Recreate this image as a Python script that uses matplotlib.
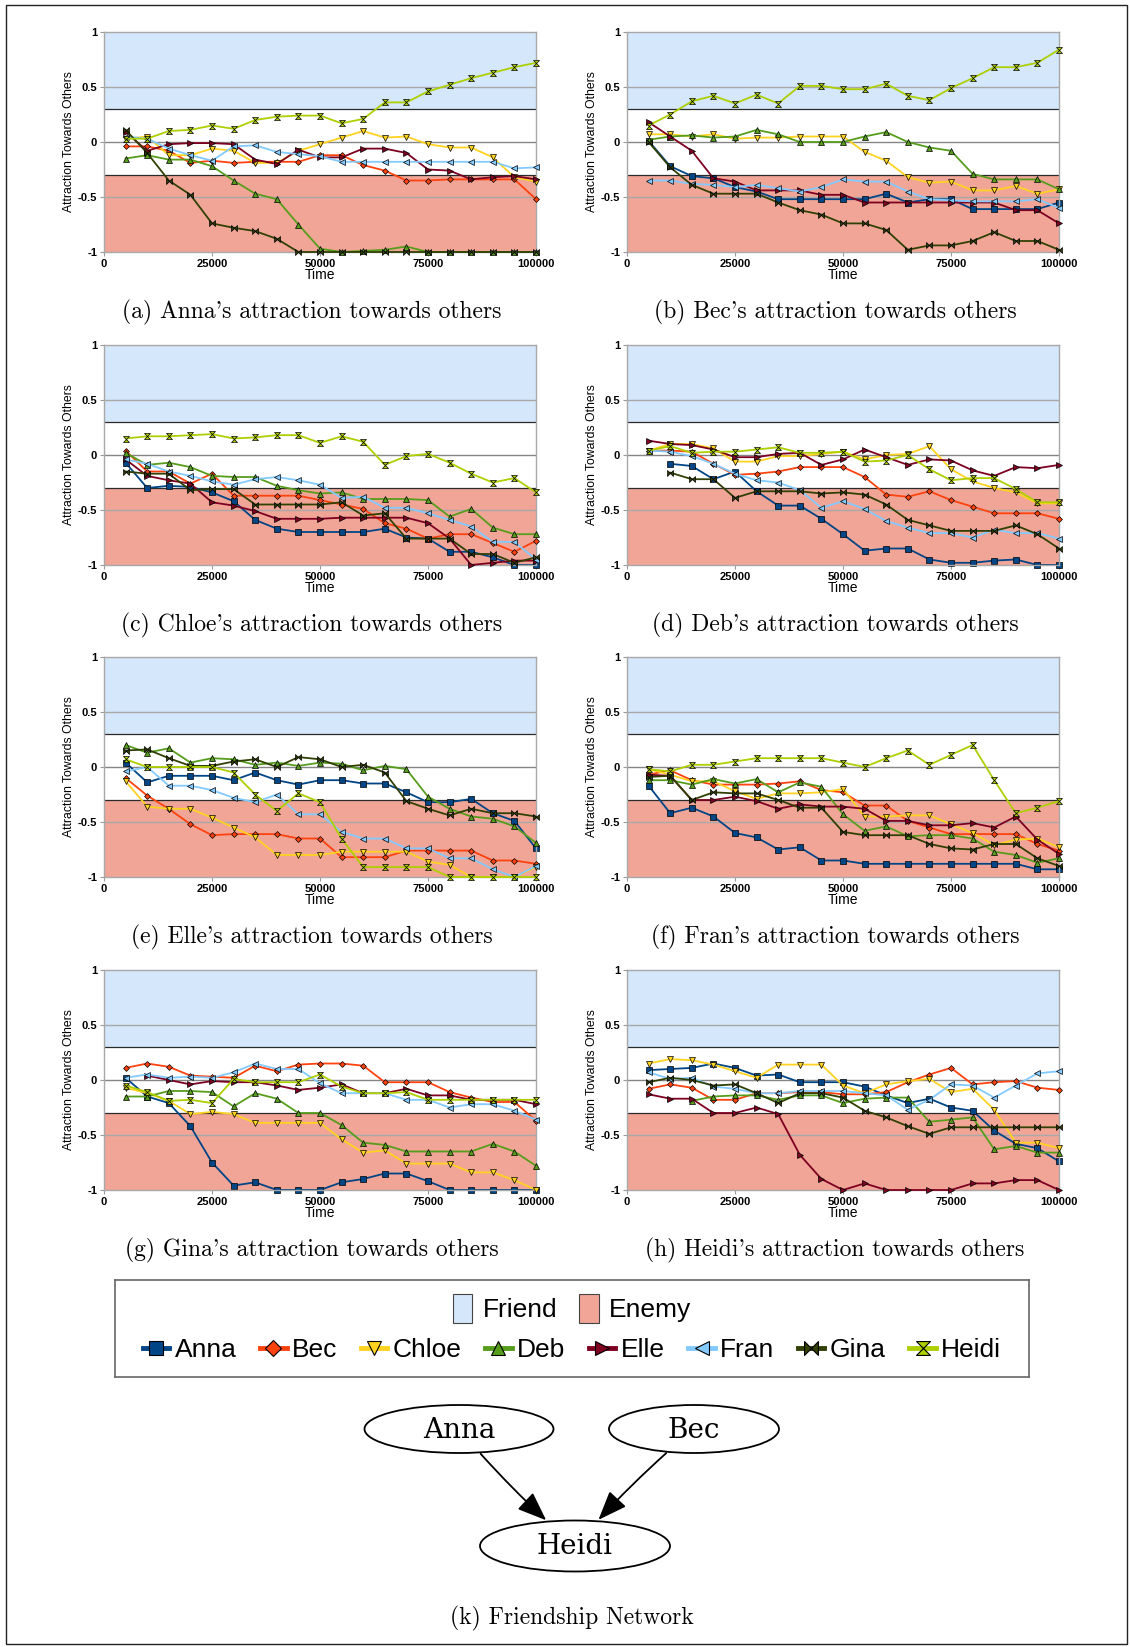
import numpy as np
import matplotlib
matplotlib.use("Agg")
import matplotlib.pyplot as plt
from matplotlib.path import Path
from matplotlib.patches import Ellipse, Rectangle, FancyArrowPatch, Patch
from matplotlib.lines import Line2D

plt.rcParams['font.family'] = ['Liberation Sans', 'DejaVu Sans']

W, H = 1130, 1647  # figure size in pixels

times = [5000, 10000, 15000, 20000, 25000, 30000, 35000, 40000, 45000, 50000,
         55000, 60000, 65000, 70000, 75000, 80000, 85000, 90000, 95000, 100000]
people = ["Anna", "Bec", "Chloe", "Deb", "Elle", "Fran", "Gina", "Heidi"]
colors = ["#004586", "#ff420e", "#ffd320", "#579d1c", "#7e0021", "#83caff", "#314004", "#aecf00"]
captions = ["(a) Anna's attraction towards others", "(b) Bec's attraction towards others",
            "(c) Chloe's attraction towards others", "(d) Deb's attraction towards others",
            "(e) Elle's attraction towards others", "(f) Fran's attraction towards others",
            "(g) Gina's attraction towards others", "(h) Heidi's attraction towards others"]
yticks = [-1, -0.5, 0, 0.5, 1]
ytick_labels = ["-1", "-0.5", "0", "0.5", "1"]
xticks = [0, 25000, 50000, 75000, 100000]
friend_range = (0.3, 1)
enemy_range = (-1, -0.3)

n = None

anna = {
    "Bec":   [-0.04, -0.04, -0.08, -0.19, -0.17, -0.19, -0.18, -0.18, -0.18, -0.12, -0.12, -0.21, -0.26, -0.35, -0.35, -0.34, -0.34, -0.34, -0.34, -0.52],
    "Chloe": [0.03, 0.05, -0.12, -0.12, -0.06, -0.08, -0.19, -0.19, -0.08, -0.02, 0.04, 0.10, 0.04, 0.05, -0.02, -0.05, -0.05, -0.14, -0.32, -0.36],
    "Deb":   [-0.15, -0.12, -0.16, -0.16, -0.22, -0.35, -0.47, -0.52, -0.75, -0.97, -1.0, -0.99, -0.98, -0.95, -1.0, -1.0, -1.0, -1.0, -1.0, -1.0],
    "Elle":  [0.09, -0.08, -0.02, -0.01, -0.01, -0.02, -0.16, -0.20, -0.07, -0.14, -0.14, -0.06, -0.06, -0.10, -0.25, -0.26, -0.34, -0.32, -0.31, -0.34],
    "Fran":  [0.05, 0.03, -0.06, -0.12, -0.17, -0.04, -0.03, -0.09, -0.11, -0.13, -0.18, -0.18, -0.18, -0.18, -0.18, -0.18, -0.18, -0.18, -0.24, -0.23],
    "Gina":  [0.11, -0.10, -0.35, -0.48, -0.74, -0.78, -0.81, -0.88, -1.0, -1.0, -1.0, -1.0, -1.0, -1.0, -1.0, -1.0, -1.0, -1.0, -1.0, -1.0],
    "Heidi": [0.03, 0.03, 0.10, 0.11, 0.15, 0.12, 0.20, 0.23, 0.24, 0.24, 0.17, 0.21, 0.36, 0.36, 0.46, 0.52, 0.58, 0.63, 0.68, 0.72],
}
bec = {
    "Anna":  [0.01, -0.22, -0.31, -0.33, -0.41, -0.45, -0.52, -0.52, -0.52, -0.52, -0.52, -0.47, -0.55, -0.52, -0.52, -0.61, -0.61, -0.61, -0.61, -0.55],
    "Chloe": [0.07, 0.07, 0.05, 0.07, 0.03, 0.04, 0.04, 0.05, 0.05, 0.05, -0.09, -0.17, -0.32, -0.37, -0.36, -0.44, -0.44, -0.40, -0.47, -0.43],
    "Deb":   [0.02, 0.05, 0.06, 0.04, 0.05, 0.11, 0.07, 0.0, 0.0, 0.0, 0.05, 0.09, 0.0, -0.05, -0.08, -0.29, -0.34, -0.34, -0.34, -0.43],
    "Elle":  [0.18, 0.05, -0.08, -0.33, -0.36, -0.44, -0.44, -0.44, -0.48, -0.48, -0.55, -0.55, -0.55, -0.55, -0.55, -0.55, -0.55, -0.62, -0.62, -0.74],
    "Fran":  [-0.35, -0.35, -0.38, -0.39, -0.41, -0.39, -0.42, -0.45, -0.41, -0.34, -0.36, -0.36, -0.45, -0.52, -0.53, -0.54, -0.54, -0.54, -0.52, -0.60],
    "Gina":  [0.0, -0.23, -0.39, -0.47, -0.47, -0.47, -0.55, -0.62, -0.66, -0.74, -0.74, -0.80, -0.98, -0.94, -0.94, -0.90, -0.82, -0.90, -0.90, -0.98],
    "Heidi": [0.15, 0.25, 0.37, 0.42, 0.35, 0.43, 0.35, 0.51, 0.51, 0.48, 0.48, 0.53, 0.42, 0.38, 0.49, 0.58, 0.68, 0.68, 0.72, 0.84],
}
chloe = {
    "Anna":  [-0.07, -0.30, -0.28, -0.29, -0.34, -0.42, -0.59, -0.67, -0.70, -0.70, -0.70, -0.70, -0.67, -0.75, -0.76, -0.88, -0.88, -0.93, -1.0, -1.0],
    "Bec":   [0.04, -0.15, -0.15, -0.26, -0.17, -0.37, -0.37, -0.37, -0.37, -0.41, -0.45, -0.49, -0.62, -0.67, -0.76, -0.72, -0.72, -0.80, -0.88, -0.78],
    "Deb":   [0.02, -0.09, -0.07, -0.11, -0.19, -0.20, -0.20, -0.28, -0.32, -0.35, -0.34, -0.40, -0.40, -0.40, -0.41, -0.56, -0.49, -0.66, -0.72, -0.72],
    "Elle":  [-0.04, -0.19, -0.23, -0.26, -0.43, -0.46, -0.51, -0.58, -0.58, -0.58, -0.57, -0.57, -0.57, -0.57, -0.62, -0.76, -1.0, -0.98, -0.96, -0.96],
    "Fran":  [-0.04, -0.08, -0.15, -0.19, -0.24, -0.27, -0.22, -0.20, -0.23, -0.27, -0.39, -0.38, -0.48, -0.48, -0.53, -0.59, -0.65, -0.79, -0.79, -0.95],
    "Gina":  [-0.15, -0.17, -0.17, -0.32, -0.31, -0.31, -0.45, -0.45, -0.45, -0.45, -0.43, -0.55, -0.53, -0.76, -0.76, -0.76, -0.90, -0.90, -0.98, -0.93],
    "Heidi": [0.15, 0.17, 0.17, 0.18, 0.19, 0.15, 0.16, 0.18, 0.18, 0.11, 0.17, 0.12, -0.09, -0.01, 0.01, -0.07, -0.17, -0.25, -0.21, -0.34],
}
deb = {
    "Anna":  [n, -0.08, -0.10, -0.22, -0.15, -0.33, -0.46, -0.46, -0.58, -0.72, -0.87, -0.85, -0.85, -0.95, -0.98, -0.98, -0.96, -0.95, -1.0, -1.0],
    "Bec":   [0.04, 0.04, 0.03, -0.08, -0.18, -0.17, -0.15, -0.11, -0.11, -0.11, -0.20, -0.36, -0.38, -0.33, -0.41, -0.47, -0.53, -0.53, -0.53, -0.58],
    "Chloe": [0.04, 0.10, 0.10, 0.06, -0.06, -0.06, -0.01, -0.01, 0.01, 0.03, -0.04, 0.0, 0.01, 0.08, -0.13, -0.24, -0.30, -0.34, -0.44, -0.44],
    "Elle":  [0.13, 0.10, 0.09, 0.05, -0.02, -0.02, 0.01, 0.02, -0.09, -0.04, 0.05, -0.02, -0.09, -0.04, -0.05, -0.14, -0.19, -0.11, -0.12, -0.09],
    "Fran":  [0.04, 0.03, -0.01, -0.08, -0.17, -0.23, -0.25, -0.32, -0.48, -0.42, -0.49, -0.60, -0.66, -0.71, -0.71, -0.75, -0.68, -0.71, -0.71, -0.76],
    "Gina":  [n, -0.16, -0.22, -0.22, -0.39, -0.33, -0.33, -0.33, -0.35, -0.34, -0.36, -0.45, -0.59, -0.64, -0.69, -0.69, -0.69, -0.64, -0.72, -0.85],
    "Heidi": [0.04, 0.08, 0.02, 0.03, 0.03, 0.05, 0.07, 0.02, 0.02, 0.03, -0.06, -0.05, 0.0, -0.13, -0.23, -0.21, -0.21, -0.31, -0.43, -0.43],
}
elle = {
    "Anna":  [0.04, -0.14, -0.08, -0.08, -0.08, -0.12, -0.05, -0.12, -0.16, -0.12, -0.12, -0.15, -0.15, -0.23, -0.32, -0.32, -0.29, -0.42, -0.49, -0.74],
    "Bec":   [-0.10, -0.26, -0.38, -0.52, -0.62, -0.61, -0.61, -0.61, -0.65, -0.65, -0.82, -0.82, -0.82, -0.76, -0.76, -0.76, -0.76, -0.85, -0.85, -0.88],
    "Chloe": [-0.13, -0.36, -0.38, -0.38, -0.46, -0.55, -0.64, -0.80, -0.80, -0.80, -0.77, -0.77, -0.77, -0.77, -0.86, -0.89, -1.0, -1.0, -1.0, -0.91],
    "Deb":   [0.20, 0.13, 0.17, 0.04, 0.08, 0.07, 0.02, 0.04, 0.01, 0.04, 0.03, -0.03, 0.01, -0.02, -0.27, -0.38, -0.45, -0.47, -0.54, -0.69],
    "Fran":  [-0.04, 0.0, -0.17, -0.17, -0.21, -0.28, -0.32, -0.25, -0.43, -0.43, -0.59, -0.65, -0.65, -0.74, -0.74, -0.83, -0.83, -0.93, -1.0, -0.90],
    "Gina":  [0.15, 0.16, 0.08, 0.01, 0.01, 0.05, 0.07, 0.0, 0.09, 0.07, 0.0, 0.02, -0.05, -0.31, -0.38, -0.44, -0.38, -0.42, -0.42, -0.45],
    "Heidi": [0.07, 0.0, 0.0, 0.0, 0.0, -0.05, -0.25, -0.40, -0.24, -0.32, -0.65, -0.91, -0.91, -0.91, -0.91, -1.0, -1.0, -1.0, -1.0, -1.0],
}
fran = {
    "Anna":  [-0.17, -0.42, -0.37, -0.45, -0.60, -0.64, -0.75, -0.73, -0.85, -0.85, -0.88, -0.88, -0.88, -0.88, -0.88, -0.88, -0.88, -0.88, -0.93, -0.93],
    "Bec":   [-0.07, -0.03, -0.12, -0.16, -0.16, -0.16, -0.15, -0.13, -0.21, -0.23, -0.35, -0.35, -0.49, -0.55, -0.61, -0.61, -0.61, -0.61, -0.70, -0.76],
    "Chloe": [-0.02, -0.07, -0.13, -0.13, -0.22, -0.29, -0.24, -0.24, -0.23, -0.20, -0.45, -0.45, -0.44, -0.44, -0.52, -0.60, -0.71, -0.66, -0.65, -0.73],
    "Deb":   [-0.12, -0.12, -0.16, -0.11, -0.15, -0.11, -0.23, -0.14, -0.18, -0.43, -0.58, -0.54, -0.63, -0.62, -0.62, -0.65, -0.77, -0.80, -0.87, -0.83],
    "Elle":  [-0.07, -0.08, -0.30, -0.30, -0.27, -0.31, -0.38, -0.34, -0.36, -0.36, -0.38, -0.49, -0.49, -0.53, -0.53, -0.51, -0.55, -0.45, -0.66, -0.79],
    "Gina":  [-0.09, -0.08, -0.30, -0.23, -0.24, -0.24, -0.30, -0.37, -0.37, -0.59, -0.62, -0.62, -0.62, -0.70, -0.74, -0.75, -0.70, -0.70, -0.83, -0.90],
    "Heidi": [-0.02, -0.04, 0.02, 0.02, 0.05, 0.08, 0.08, 0.08, 0.08, 0.04, 0.0, 0.08, 0.15, 0.02, 0.11, 0.20, -0.12, -0.42, -0.37, -0.31],
}
gina = {
    "Anna":  [0.02, -0.15, -0.21, -0.42, -0.75, -0.96, -0.93, -1.0, -1.0, -1.0, -0.93, -0.90, -0.85, -0.85, -0.92, -1.0, -1.0, -1.0, -1.0, -1.0],
    "Bec":   [0.11, 0.15, 0.12, 0.04, 0.03, 0.02, 0.13, 0.08, 0.14, 0.15, 0.15, 0.13, -0.02, -0.02, -0.02, -0.11, -0.16, -0.20, -0.20, -0.37],
    "Chloe": [-0.07, -0.12, -0.19, -0.31, -0.29, -0.31, -0.39, -0.39, -0.39, -0.39, -0.54, -0.66, -0.64, -0.76, -0.76, -0.76, -0.84, -0.84, -0.91, -1.0],
    "Deb":   [-0.15, -0.15, -0.10, -0.10, -0.11, -0.24, -0.12, -0.17, -0.30, -0.30, -0.41, -0.57, -0.59, -0.65, -0.65, -0.65, -0.65, -0.58, -0.65, -0.78],
    "Elle":  [n, 0.04, 0.0, -0.04, -0.01, -0.02, -0.02, -0.05, -0.09, -0.07, -0.04, -0.12, -0.12, -0.08, -0.14, -0.14, -0.18, -0.18, -0.18, -0.22],
    "Fran":  [0.02, 0.05, 0.02, 0.03, 0.02, 0.07, 0.15, 0.10, 0.10, -0.03, -0.12, -0.12, -0.12, -0.18, -0.18, -0.25, -0.22, -0.22, -0.28, -0.36],
    "Heidi": [-0.05, -0.11, -0.19, -0.18, -0.21, 0.01, -0.02, -0.02, -0.02, 0.05, -0.06, -0.12, -0.12, -0.11, -0.18, -0.18, -0.18, -0.18, -0.18, -0.18],
}
heidi = {
    "Anna":  [0.09, 0.10, 0.11, 0.15, 0.11, 0.04, 0.05, -0.02, -0.02, -0.02, -0.06, -0.14, -0.21, -0.17, -0.25, -0.28, -0.46, -0.58, -0.62, -0.74],
    "Bec":   [-0.08, -0.04, -0.07, -0.18, -0.18, -0.12, -0.12, -0.11, -0.11, -0.13, -0.13, -0.11, -0.02, 0.05, 0.11, -0.04, -0.02, -0.01, -0.07, -0.09],
    "Chloe": [0.15, 0.19, 0.18, 0.14, 0.08, 0.02, 0.14, 0.14, 0.14, -0.05, -0.12, -0.04, -0.01, 0.01, -0.11, -0.08, -0.27, -0.57, -0.57, -0.62],
    "Deb":   [n, n, -0.19, -0.15, -0.14, -0.14, -0.18, -0.14, -0.14, -0.21, -0.17, -0.16, -0.16, -0.38, -0.36, -0.34, -0.63, -0.60, -0.66, -0.66],
    "Elle":  [-0.13, -0.17, -0.17, -0.30, -0.30, -0.25, -0.31, -0.68, -0.90, -1.0, -0.94, -1.0, -1.0, -1.0, -1.0, -0.94, -0.94, -0.91, -0.91, -1.0],
    "Fran":  [0.07, 0.01, 0.02, -0.06, -0.08, -0.12, -0.12, -0.10, -0.10, -0.10, -0.12, -0.14, -0.27, -0.18, -0.04, -0.05, -0.16, -0.05, 0.06, 0.08],
    "Gina":  [-0.02, 0.02, 0.0, -0.05, -0.04, -0.12, -0.21, -0.12, -0.12, -0.16, -0.28, -0.34, -0.42, -0.49, -0.43, -0.43, -0.43, -0.43, -0.43, -0.43],
}
panels = [anna, bec, chloe, deb, elle, fran, gina, heidi]

# friendship network
nodes = ["Anna", "Bec", "Heidi"]
edges = [("Anna", "Heidi"), ("Bec", "Heidi")]

friend_c = "#d4e7fb"
enemy_c = "#f1a597"
cm_font = ["cmr10", "DejaVu Serif"]

# custom markers: bowtie for Gina, hourglass for Heidi
bowtie = Path([(-1, 1), (-1, -1), (1, 1), (1, -1), (-1, 1)],
              [Path.MOVETO, Path.LINETO, Path.LINETO, Path.LINETO, Path.CLOSEPOLY])
hourglass = Path([(-1, 1), (1, 1), (-1, -1), (1, -1), (-1, 1)],
                 [Path.MOVETO, Path.LINETO, Path.LINETO, Path.LINETO, Path.CLOSEPOLY])
markers = ["s", "D", "v", "^", ">", "<", bowtie, hourglass]
msizes = [4.4, 3.0, 4.3, 4.3, 4.3, 4.3, 4.3, 4.3]

fig = plt.figure(figsize=(W / 100, H / 100), dpi=100)


def px_axes(x0, y0, w, h, **kw):
    return fig.add_axes([x0 / W, 1 - (y0 + h) / H, w / W, h / H], **kw)


col_x = [104, 627]
row_y = [32, 345, 657, 970]
ax_w, ax_h = 432, 220

for k, data in enumerate(panels):
    who = people[k]
    x0 = col_x[k % 2]
    y0 = row_y[k // 2]
    ax = px_axes(x0, y0, ax_w, ax_h)
    ax.axhspan(*friend_range, color=friend_c, lw=0, zorder=0)
    ax.axhspan(*enemy_range, color=enemy_c, lw=0, zorder=0)
    for yv in (0.5, -0.5):
        ax.axhline(yv, color="#a8a8a8", lw=1.0, zorder=1)
    ax.axhline(0, color="#858585", lw=1.0, zorder=1)
    for yv in (friend_range[0], enemy_range[1]):
        ax.axhline(yv, color="#2a2a2a", lw=0.9, zorder=1)
    for i, p in enumerate(people):
        if p == who:
            continue
        vals = np.array([np.nan if v is None else v for v in data[p]], dtype=float)
        ax.plot(times, vals, color=colors[i], lw=1.3, marker=markers[i], ms=msizes[i],
                mfc=colors[i], mec="black", mew=0.5, zorder=2 + i, clip_on=False)
    ax.set_xlim(0, 100000)
    ax.set_ylim(-1, 1)
    ax.set_yticks(yticks)
    ax.set_yticklabels(ytick_labels, fontsize=8, fontweight="bold")
    ax.set_xticks(xticks)
    ax.set_xticklabels([str(t) for t in xticks], fontsize=8, fontweight="bold")
    ax.tick_params(length=3, width=0.8, color="#9a9a9a", pad=2)
    for s in ax.spines.values():
        s.set_color("#a8a8a8")
        s.set_linewidth(1.0)
    ax.set_xlabel("Time", fontsize=10, labelpad=-1)
    ax.set_ylabel("Attraction Towards Others", fontsize=8.8, labelpad=2)
    fig.text((x0 + ax_w / 2 - 8) / W, 1 - (y0 + 280) / H, captions[k],
             family=cm_font, fontsize=17, ha="center", va="center")

# legend box
lax = px_axes(115, 1280, 914, 97)
lax.set_xticks([])
lax.set_yticks([])
for s in lax.spines.values():
    s.set_color("#666666")
    s.set_linewidth(1.2)
band_handles = [Patch(fc=friend_c, ec="#444444", lw=0.8, label="Friend"),
                Patch(fc=enemy_c, ec="#444444", lw=0.8, label="Enemy")]
leg1 = lax.legend(handles=band_handles, loc="center", bbox_to_anchor=(0.5, 0.71), ncol=2,
                  frameon=False, fontsize=19, handlelength=0.75, handleheight=1.3,
                  handletextpad=0.4, columnspacing=0.8, borderpad=0)
lax.add_artist(leg1)
series_handles = [Line2D([], [], color=colors[i], lw=3.5, marker=markers[i],
                         ms=(10 if i != 1 else 8), mfc=colors[i], mec="black", mew=0.8, label=p)
                  for i, p in enumerate(people)]
lax.legend(handles=series_handles, loc="center", bbox_to_anchor=(0.5, 0.28), ncol=8,
           frameon=False, fontsize=19, handlelength=1.0, handletextpad=0.2,
           columnspacing=0.9, borderpad=0)

# background layer: outer frame and friendship network
bg = fig.add_axes([0, 0, 1, 1], zorder=-1)
bg.set_xlim(0, W)
bg.set_ylim(H, 0)
bg.axis("off")
bg.add_patch(Rectangle((6, 5), W - 9, H - 8, fill=False, ec="#222222", lw=1.0))

node_xy = {"Anna": (459, 1429), "Bec": (694, 1429), "Heidi": (575, 1546)}
node_wh = {"Anna": (189, 48), "Bec": (170, 48), "Heidi": (190, 51)}
shapes = {}
for name in nodes:
    e = Ellipse(node_xy[name], *node_wh[name], fill=False, ec="black", lw=1.3)
    bg.add_patch(e)
    shapes[name] = e
    bg.text(node_xy[name][0], node_xy[name][1] + 1, name, family="DejaVu Serif",
            fontsize=20, ha="center", va="center")
for a, b in edges:
    arr = FancyArrowPatch(node_xy[a], node_xy[b], patchA=shapes[a], patchB=shapes[b],
                          arrowstyle="-|>,head_length=0.9,head_width=0.35", mutation_scale=20,
                          connectionstyle="arc3,rad=0.04", color="black", lw=1.3)
    bg.add_patch(arr)
bg.text(572, 1618, "(k) Friendship Network", family=cm_font, fontsize=17,
        ha="center", va="center")

fig.savefig("out.png", dpi=100)
